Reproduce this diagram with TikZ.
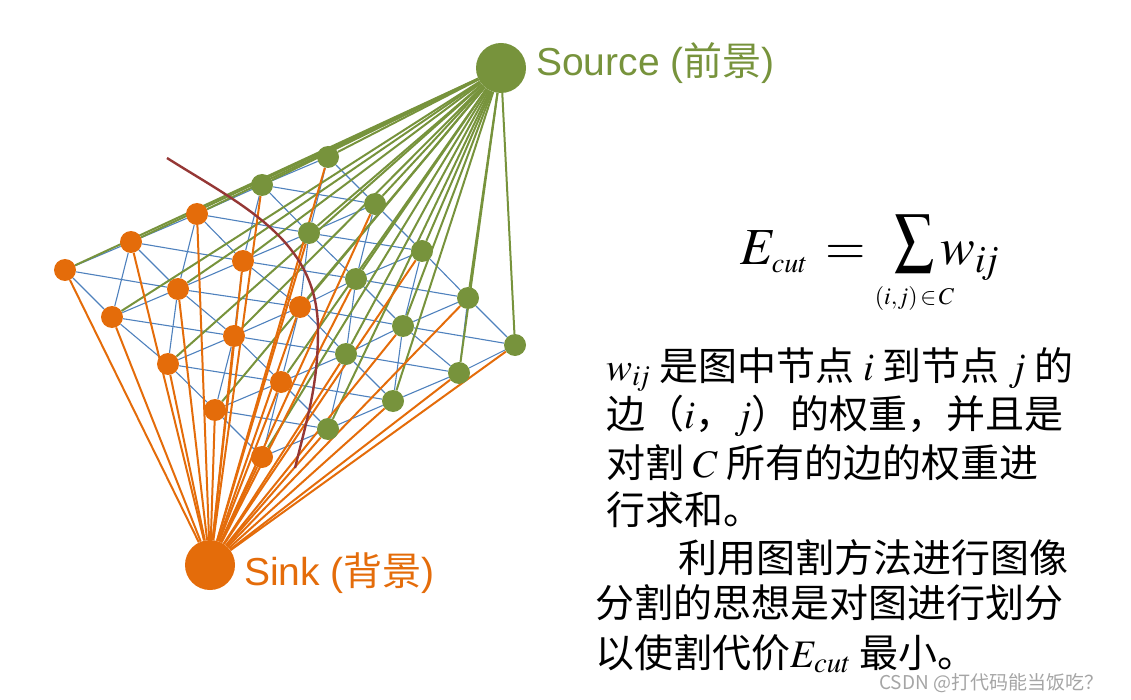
\documentclass[tikz,border=0pt]{standalone}
\usepackage{mathptmx}
\usepackage{mathtools}
\usepackage{fontspec}
\setsansfont{Liberation Sans}
\newfontfamily\cjk{Noto Sans CJK SC}
\usepackage{tikz}
\usetikzlibrary{positioning}
\definecolor{fggreen}{RGB}{119,147,60}
\definecolor{bgorange}{RGB}{228,108,10}
\definecolor{nblue}{RGB}{79,129,189}
\definecolor{cutred}{RGB}{149,55,53}
\definecolor{markgray}{RGB}{165,165,165}
\pgfdeclarelayer{edges}
\pgfsetlayers{edges,main}

\begin{document}
\begin{tikzpicture}[x=1pt, y=-1pt,
  pix/.style={circle, inner sep=0pt, minimum size=22pt},
  fg/.style={pix, fill=fggreen},
  bg/.style={pix, fill=bgorange},
  term/.style={circle, inner sep=0pt, minimum size=50pt},
  nlink/.style={nblue, line width=1.1pt},
  srclink/.style={fggreen, line width=2pt},
  sinklink/.style={bgorange, line width=2pt},
  cut/.style={cutred, line width=2.4pt},
  txt/.style={anchor=base west, inner sep=0pt, font={\fontsize{39}{39}\selectfont\cjk}},
  lbl/.style={anchor=base west, inner sep=0pt, font={\fontsize{39}{39}\selectfont\sffamily}},
]
\useasboundingbox (0,0) rectangle (1131,700);

% terminals
\node[term, fill=fggreen]  (src)  at (501,68)  {};
\node[term, fill=bgorange] (sink) at (210,565) {};

% pixel grid
\node[bg] (p00) at (65,270)  {}; \node[bg] (p01) at (131,242) {};
\node[bg] (p02) at (197,214) {}; \node[fg] (p03) at (262,185) {};
\node[fg] (p04) at (328,157) {};
\node[bg] (p10) at (112,317) {}; \node[bg] (p11) at (178,289) {};
\node[bg] (p12) at (243,261) {}; \node[fg] (p13) at (309,233) {};
\node[fg] (p14) at (375,204) {};
\node[bg] (p20) at (168,364) {}; \node[bg] (p21) at (234,336) {};
\node[bg] (p22) at (300,307) {}; \node[fg] (p23) at (356,279) {};
\node[fg] (p24) at (422,251) {};
\node[bg] (p30) at (215,410) {}; \node[bg] (p31) at (281,382) {};
\node[fg] (p32) at (346,354) {}; \node[fg] (p33) at (403,326) {};
\node[fg] (p34) at (468,298) {};
\node[bg] (p40) at (262,457) {}; \node[fg] (p41) at (328,429) {};
\node[fg] (p42) at (393,401) {}; \node[fg] (p43) at (459,373) {};
\node[fg] (p44) at (515,345) {};

\begin{pgfonlayer}{edges}
% n-links
\draw[nlink] (p00)--(p01)--(p02)--(p03)--(p04);
\draw[nlink] (p10)--(p11)--(p12)--(p13)--(p14);
\draw[nlink] (p20)--(p21)--(p22)--(p23)--(p24);
\draw[nlink] (p30)--(p31)--(p32)--(p33)--(p34);
\draw[nlink] (p40)--(p41)--(p42)--(p43)--(p44);
\draw[nlink] (p00)--(p10)--(p20)--(p30)--(p40);
\draw[nlink] (p01)--(p11)--(p21)--(p31)--(p41);
\draw[nlink] (p02)--(p12)--(p22)--(p32)--(p42);
\draw[nlink] (p03)--(p13)--(p23)--(p33)--(p43);
\draw[nlink] (p04)--(p14)--(p24)--(p34)--(p44);
\draw[nlink] (p00)--(p11)--(p22)--(p33)--(p44);
\draw[nlink] (p01)--(p12)--(p23)--(p34); \draw[nlink] (p02)--(p13)--(p24);
\draw[nlink] (p03)--(p14); \draw[nlink] (p10)--(p21)--(p32)--(p43);
\draw[nlink] (p20)--(p31)--(p42); \draw[nlink] (p30)--(p41);
\draw[nlink] (p04)--(p13)--(p22)--(p31)--(p40);
\draw[nlink] (p03)--(p12)--(p21)--(p30); \draw[nlink] (p02)--(p11)--(p20);
\draw[nlink] (p01)--(p10); \draw[nlink] (p14)--(p23)--(p32)--(p41);
\draw[nlink] (p24)--(p33)--(p42); \draw[nlink] (p34)--(p43);
% t-links
\foreach \p in {p00,p01,p02,p03,p04,p10,p11,p12,p13,p14,p20,p21,p22,p23,p24,
                p30,p31,p32,p33,p34,p40,p41,p42,p43,p44}
  \draw[srclink] (src)--(\p);
\foreach \p in {p00,p01,p02,p03,p04,p10,p11,p12,p13,p14,p20,p21,p22,p23,p24,
                p30,p31,p32,p33,p34,p40,p41,p42,p43,p44}
  \draw[sinklink] (sink)--(\p);
\end{pgfonlayer}

% the cut
\coordinate (cuttop) at (167,158);
\coordinate (cutbot) at (295,468);
\draw[cut] (cuttop) .. controls (243,206) and (318,240) .. (318,330)
           .. controls (318,385) and (308,415) .. (cutbot);

% labels
\node[lbl, fggreen]  (srclbl)  at (536,76)  {Source ({\cjk 前景})};
\node[lbl, bgorange] (sinklbl) at (244,585) {Sink ({\cjk 背景})};

\node[anchor=base west, inner sep=0pt, font={\fontsize{52}{52}\selectfont}] (ecut) at (740,265)
  {$\displaystyle E_{\mbox{\fontsize{28}{28}\selectfont$cut$}} \mkern2mu = \mkern6mu
   \mathop{\raisebox{-8pt}{\resizebox*{40pt}{58pt}{\raisebox{\depth}{$\displaystyle\sum$}}}}%
   \limits_{\mathclap{\mbox{\fontsize{24}{24}\selectfont$(i{,}j)\mkern-2mu\in\mkern-2mu C$}}}
   w_{i\mkern-2mu j}$};

\node[txt] (l1) at (606,380) {$w_{i\mkern-2mu j}$ 是图中节点 $i$ 到节点 $j$ 的};
\node[txt] (l2) at (606,428) {边（$i$，$j$）的权重，并且是};
\node[txt] (l3) at (606,477) {对割 $C$ 所有的边的权重进};
\node[txt] (l4) at (606,524) {行求和。};

\node[txt] (m1) at (678,572) {利用图割方法进行图像};
\node[txt] (m2) at (595,617) {分割的思想是对图进行划分};
\node[txt] (m3) at (595,667) {以使割代价$E_{cut}$ 最小。};

\node[anchor=base west, inner sep=0pt, markgray, font={\fontsize{19}{19}\selectfont\cjk}] (mark) at (879,689)
  {CSDN @打代码能当饭吃？};
\end{tikzpicture}
\end{document}
